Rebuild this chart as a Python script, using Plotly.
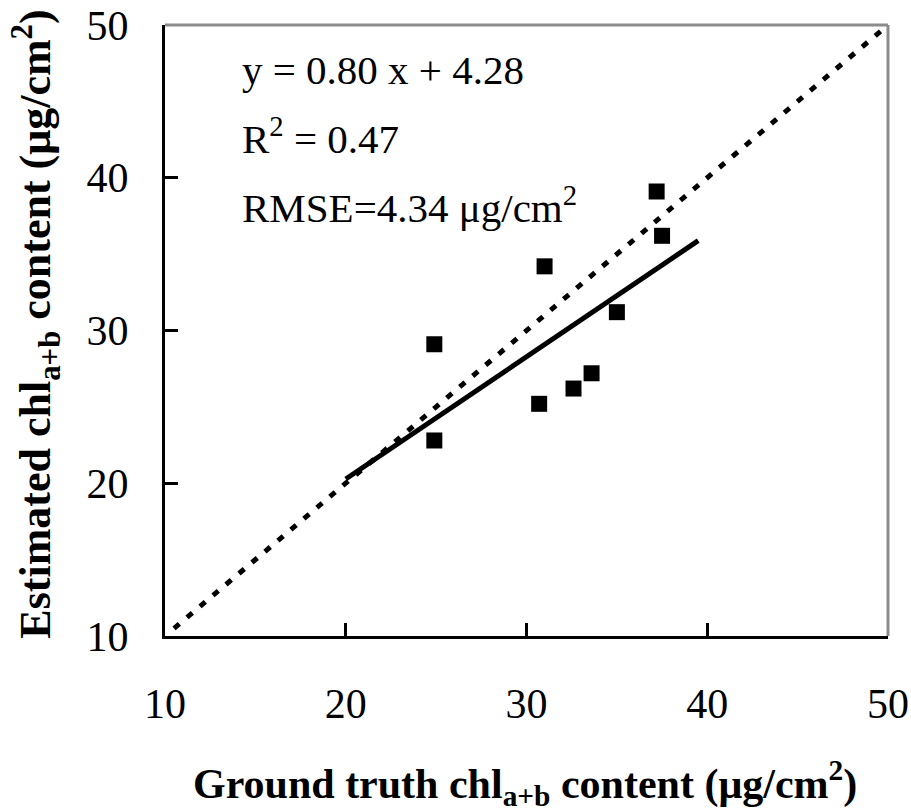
import plotly.graph_objects as go

# Measured vs estimated chlorophyll (ug/cm2)
ground_truth = [24.9, 24.9, 31.0, 30.7, 32.6, 33.6, 35.0, 37.2, 37.5]
estimated = [29.1, 22.8, 34.2, 25.2, 26.2, 27.2, 31.2, 39.1, 36.2]

# Regression line y = 0.80 x + 4.28 drawn over the fitted range
slope = 0.80
intercept = 4.28
fit_x = [20.0, 39.5]
fit_y = [slope * v + intercept for v in fit_x]

# 1:1 line
one_to_one = [10.5, 50.0]

x_ticks = [10, 20, 30, 40, 50]
y_ticks = [10, 20, 30, 40, 50]

FONT = "Liberation Serif, Times New Roman, serif"

fig = go.Figure()
fig.add_trace(go.Scatter(x=one_to_one, y=one_to_one, mode="lines",
                         line=dict(color="black", width=5, dash="7px,10px"),
                         showlegend=False, hoverinfo="skip"))
fig.add_trace(go.Scatter(x=fit_x, y=fit_y, mode="lines",
                         line=dict(color="black", width=5),
                         showlegend=False))
fig.add_trace(go.Scatter(x=ground_truth, y=estimated, mode="markers",
                         marker=dict(symbol="square", size=16, color="black",
                                     line=dict(width=0)),
                         showlegend=False))

axis_common = dict(showgrid=False, zeroline=False, showline=True,
                   linecolor="black", linewidth=3, ticks="inside",
                   ticklen=13, tickwidth=3, tickcolor="black", automargin=False,
                   tickfont=dict(family=FONT, size=42, color="black"))

fig.update_xaxes(range=[10, 50], tickvals=x_ticks, ticklabelstandoff=29,
                 **axis_common)
fig.update_yaxes(range=[10, 50], tickvals=y_ticks, ticklabelstandoff=25,
                 **axis_common)

# gray top and right frame lines
fig.add_shape(type="line", xref="paper", yref="paper", x0=0, x1=1, y0=1, y1=1,
              line=dict(color="#8c8c8c", width=3))
fig.add_shape(type="line", xref="paper", yref="paper", x0=1, x1=1, y0=0, y1=1,
              line=dict(color="#8c8c8c", width=3))

ann_font = dict(family=FONT, size=41, color="black")
texts = ["y = 0.80 x + 4.28", "R<sup>2</sup> = 0.47", "RMSE=4.34 μg/cm<sup>2</sup>"]
ys = [0.926, 0.818, 0.705]
for t, yy in zip(texts, ys):
    fig.add_annotation(text=t, xref="paper", yref="paper", x=0.104, y=yy,
                       xanchor="left", yanchor="middle", showarrow=False,
                       font=ann_font)

fig.add_annotation(text="<b>Ground truth chl<sub>a+b</sub> content (μg/cm<sup>2</sup>)</b>",
                   xref="paper", yref="paper", x=0.498, y=-0.24,
                   xanchor="center", yanchor="middle", showarrow=False,
                   font=dict(family=FONT, size=42, color="black"))
fig.add_annotation(text="<b>Estimated chl<sub>a+b</sub> content (μg/cm<sup>2</sup>)</b>",
                   xref="paper", yref="paper", x=-0.178, y=0.51,
                   xanchor="center", yanchor="middle", showarrow=False,
                   textangle=-90, font=dict(family=FONT, size=44, color="black"))

fig.update_layout(width=911, height=812, plot_bgcolor="white", paper_bgcolor="white",
                  margin=dict(l=165, r=23, t=25, b=176))

fig.write_html("out.html")
